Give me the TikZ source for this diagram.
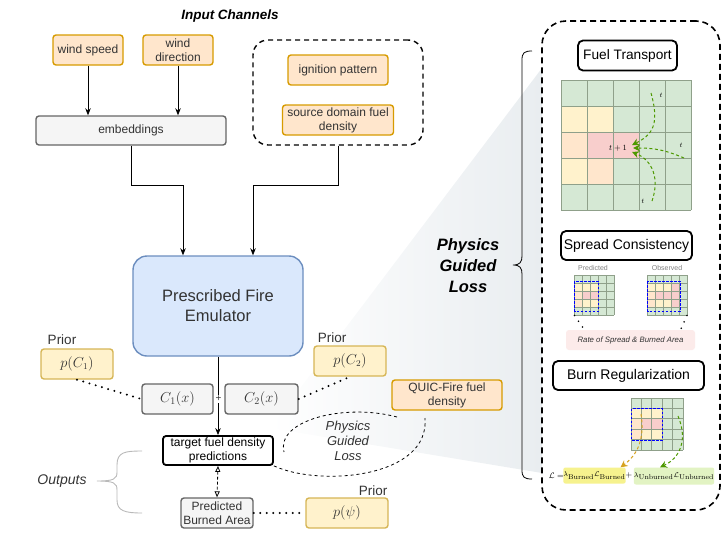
\documentclass[tikz,border=0pt]{standalone}
\usepackage[no-math]{fontspec}
\setmainfont{Liberation Sans}
\usetikzlibrary{arrows.meta,calc}
\definecolor{c333}{HTML}{333333}
\definecolor{cfo}{HTML}{FFE6CC}
\definecolor{cdo}{HTML}{D79B00}
\definecolor{cfy}{HTML}{FFF2CC}
\definecolor{cdy}{HTML}{D6B656}
\definecolor{cfg}{HTML}{F5F5F5}
\definecolor{cdg}{HTML}{666666}
\definecolor{cfb}{HTML}{DAE8FC}
\definecolor{cdb}{HTML}{6C8EBF}
\definecolor{cg}{HTML}{D5E8D4}
\definecolor{cy}{HTML}{FFF2CC}
\definecolor{cp}{HTML}{FFE6CC}
\definecolor{ck}{HTML}{F8CECC}
\definecolor{gline}{HTML}{8FA08A}
\definecolor{shd}{HTML}{E9EDF0}
\definecolor{garr}{HTML}{4D9900}
\definecolor{oarr}{HTML}{D6A21E}
\definecolor{hly}{HTML}{F6F28E}
\definecolor{hlg}{HTML}{E2F3C3}
\definecolor{rpink}{HTML}{FCEBEA}
\newcommand\mygrid[4]{%
  \fill[cg] (#1,#2) rectangle ++({5*#3},{5*#3});
  \foreach \r/\c/\cl in {#4}{\fill[\cl] ({#1+\c*#3},{#2+\r*#3}) rectangle ++(#3,#3);}
  \foreach \i in {0,...,5}{%
    \draw[gline, line width=0.8pt] ({#1+\i*#3},#2) -- ++(0,{5*#3});
    \draw[gline, line width=0.8pt] (#1,{#2+\i*#3}) -- ++({5*#3},0);}
}
\begin{document}
\begin{tikzpicture}[x=1pt,y=-1pt,
  every node/.style={inner sep=0pt, text=c333},
  base/.style={draw, rounded corners=3pt, line width=1.4pt, align=center,
    font=\fontsize{12}{14}\selectfont},
  obox/.style={base, fill=cfo, draw=cdo},
  ybox/.style={base, fill=cfy, draw=cdy},
  gbox/.style={base, fill=cfg, draw=cdg},
  bbox/.style={base, fill=cfb, draw=cdb},
  kbox/.style={base, fill=white, draw=black, line width=1.8pt, text=black},
  arr/.style={-{Stealth[length=7pt,width=5.5pt]}, line width=0.8pt},
  dots/.style={line width=2.2pt, dash pattern=on 0pt off 6.5pt, line cap=round},
  lossd/.style={line width=0.8pt, dash pattern=on 3pt off 3pt},
  garrow/.style={garr, line width=1pt, dash pattern=on 3pt off 2.5pt, -{Stealth[length=7pt,width=7pt]}},
  oarrow/.style={oarr, line width=1pt, dash pattern=on 3pt off 2.5pt, -{Stealth[length=7pt,width=7pt]}},
  ]
\useasboundingbox (0,0) rectangle (722,533);
% shaded zoom wedge
\shade[left color=white, right color=shd] (270,428) -- (542,68) -- (542,473) -- cycle;

% ---------- left part ----------
\node[font=\bfseries\itshape\fontsize{13.5}{15}\selectfont, text=black] (title) at (230,16) {Input Channels};
\node[obox, minimum width=70pt, minimum height=30pt] (ws) at (88,50) {wind speed};
\node[obox, minimum width=70pt, minimum height=30pt] (wd) at (178,50) {wind\\direction};
\node[gbox, minimum width=190pt, minimum height=29pt] (emb) at (131,130.5) {embeddings};
\node[draw, line width=1.4pt, dash pattern=on 5pt off 4pt, rounded corners=15pt,
  minimum width=170pt, minimum height=105pt] (grp) at (338,92.5) {};
\node[obox, minimum width=100pt, minimum height=30pt] (ign) at (338,70) {ignition pattern};
\node[obox, minimum width=111pt, minimum height=30pt] (src) at (338,120) {source domain fuel\\density};

\node[bbox, rounded corners=14pt, minimum width=170pt, minimum height=100pt,
  font=\fontsize{16.5}{20}\selectfont] (emu) at (218,306) {Prescribed Fire\\Emulator};

\draw[arr] (ws.south) -- (ws.south |- emb.north);
\draw[arr] (wd.south) -- (wd.south |- emb.north);
\draw[arr] (emb.south) -- ++(0,40) -| ([xshift=-35pt]emu.north);
\draw[arr] (grp.south) -- ++(0,40) -| ([xshift=35pt]emu.north);

\node[gbox, minimum width=71pt, minimum height=30pt, font=\fontsize{14}{16}\selectfont] (c1) at (177.5,399) {$C_1(x)$};
\node[gbox, minimum width=73pt, minimum height=30pt, font=\fontsize{14}{16}\selectfont] (c2) at (261.5,399) {$C_2(x)$};

\node[ybox, minimum width=72pt, minimum height=30pt, font=\fontsize{13.5}{15}\selectfont] (pc1) at (77,364) {$p(C_1)$};
\node[font=\fontsize{13.5}{15}\selectfont] (prior1) at (62,340) {Prior};
\node[ybox, minimum width=72pt, minimum height=30pt, font=\fontsize{13.5}{15}\selectfont] (pc2) at (350,361) {$p(C_2)$};
\node[font=\fontsize{13.5}{15}\selectfont] (prior2) at (332,338) {Prior};
\node[obox, minimum width=110pt, minimum height=30pt] (quic) at (447,395) {QUIC-Fire fuel\\density};

\node[kbox, minimum width=110pt, minimum height=29pt] (tgt) at (218,450.5) {target fuel density\\predictions};
\node[gbox, minimum width=72pt, minimum height=30pt] (pba) at (217,513) {Predicted\\Burned Area};
\node[ybox, minimum width=82pt, minimum height=30pt, font=\fontsize{13.5}{15}\selectfont] (ppsi) at (347,513) {$p(\psi)$};
\node[font=\fontsize{13.5}{15}\selectfont] (prior3) at (373,491) {Prior};
\node[font=\itshape\fontsize{14}{16}\selectfont] (outs) at (62,481) {Outputs};

\draw[arr] (emu.south) -- (tgt.north);
\node[fill=white, inner sep=0.8pt, font=\fontsize{10}{11}\selectfont] (plus) at (218.5,399) {+};
\draw[dots] (pc1.south) -- (c1.west);
\draw[dots] (c2.east) -- (pc2.south);
\draw[dots] (pba.east) -- (ppsi.west);
\draw[line width=0.8pt, dash pattern=on 3pt off 2pt,
  {Triangle[open,length=6pt,width=5pt]}-{Triangle[open,length=6pt,width=5pt]}] (tgt.south) -- (pba.north);

% physics guided loss dashed loop
\coordinate (la) at (397,417);
\coordinate (lb) at (284,452);
\coordinate (lc) at (425,418);
\draw[lossd] (la) .. controls (345,403) and (276,420) .. (lb);
\draw[lossd] (tgt.south east) .. controls (320,487) and (430,478) .. (lc);
\node[font=\itshape\fontsize{13}{15}\selectfont, align=center] (losslbl) at (348,441) {Physics\\Guided\\Loss};

% outputs brace
\draw[gray!55, line width=0.9pt] (142,451) .. controls (125,451) and (117,452) .. (117,465) -- (117,472)
  .. controls (117,479) and (114,481) .. (97,481)
  .. controls (114,481) and (117,483) .. (117,490) -- (117,500)
  .. controls (117,511) and (125,513) .. (142,513);

% ---------- right panel ----------
\node[draw, fill=white, line width=1.6pt, dash pattern=on 6pt off 4pt, rounded corners=24pt,
  minimum width=178pt, minimum height=489pt] (panel) at (631,265.5) {};
\draw[line width=0.8pt] (532,51) .. controls (524,51) and (522,53) .. (522,60) -- (522,256)
  .. controls (522,262) and (520,265) .. (513,265)
  .. controls (520,265) and (522,268) .. (522,274) -- (522,470)
  .. controls (522,477) and (524,479) .. (532,479);
\node[font=\bfseries\itshape\fontsize{16.5}{21}\selectfont, align=center, text=black] (pgl) at (468,266) {Physics\\Guided\\Loss};

% fuel transport
\node[kbox, rounded corners=5pt, minimum width=99pt, minimum height=30pt, font=\fontsize{13.7}{15}\selectfont] (ft) at (627.5,55.5) {Fuel Transport};
\mygrid{561}{80}{26}{1/0/cy,1/1/cy,2/0/cp,2/1/ck,2/2/ck,3/0/cy,3/1/cp}
\node[font=\fontsize{8}{9}\selectfont, text=black] (t1) at (618,148) {$t+1$};
\node[font=\fontsize{7}{8}\selectfont, text=black] (ta) at (661,95) {$t$};
\node[font=\fontsize{7}{8}\selectfont, text=black] (tb) at (681,145) {$t$};
\node[font=\fontsize{7}{8}\selectfont, text=black] (tc) at (643,201) {$t$};
\coordinate (sa) at (651,93);
\coordinate (sb) at (684,158);
\coordinate (sc) at (652,201);
\draw[garrow] (sa) .. controls (660,125) and (652,135) .. ([xshift=5pt,yshift=3pt]t1.east);
\draw[garrow] (sb) .. controls (665,150) and (655,148) .. ([xshift=6pt]t1.east);
\draw[garrow] (sc) .. controls (660,178) and (652,160) .. ([xshift=5pt,yshift=-4pt]t1.east);

% spread consistency
\node[kbox, rounded corners=5pt, minimum width=131pt, minimum height=29pt, font=\fontsize{14}{15}\selectfont] (spc) at (626.5,245.5) {Spread Consistency};
\node[font=\fontsize{7}{8}\selectfont, text=gray] (predl) at (593,268) {Predicted};
\node[font=\fontsize{7}{8}\selectfont, text=gray] (obsl) at (667,268) {Observed};
\mygrid{574}{275}{8}{1/0/cy,1/1/cy,1/2/cy,2/0/cp,2/1/ck,2/2/ck,3/0/cp,3/1/cy,3/2/cy}
\mygrid{647}{275}{8}{1/0/cy,1/1/cy,1/2/cy,1/3/ck,2/0/cp,2/1/ck,2/2/ck,2/3/ck,3/0/cp,3/1/cy,3/2/cy,3/3/ck}
\draw[blue, line width=0.9pt, dash pattern=on 2.5pt off 1.5pt] (574.5,281) rectangle (598.5,311);
\draw[blue, line width=0.9pt, dash pattern=on 2.5pt off 1.5pt] (647.5,281) rectangle (680,311);
\node[fill=rpink, rounded corners=3pt, minimum width=129pt, minimum height=20pt,
  font=\itshape\fontsize{7.8}{9}\selectfont] (ros) at (630.5,340) {Rate of Spread \& Burned Area};
\coordinate (pdot) at (574.5,315.5);
\coordinate (odot) at (687,315.5);
\draw[line width=1.8pt, dash pattern=on 0pt off 7pt, line cap=round] (pdot) -- ([xshift=-46pt]ros.north);
\draw[line width=1.8pt, dash pattern=on 0pt off 7pt, line cap=round] (odot) -- ([xshift=50pt]ros.north);

% burn regularization
\node[kbox, rounded corners=5pt, minimum width=151pt, minimum height=29pt, font=\fontsize{14}{15}\selectfont] (brg) at (628.5,375.5) {Burn Regularization};
\mygrid{631}{398}{10.4}{1/0/cy,1/1/cy,1/2/cy,2/0/cp,2/1/ck,2/2/ck,3/0/cp,3/1/cy,3/2/cy}
\draw[blue, line width=0.9pt, dash pattern=on 2.5pt off 1.5pt] (631.5,408.5) rectangle (662,440);

\node[font=\fontsize{8.5}{10}\selectfont, text=black, anchor=east] (leq) at (564,476) {$\mathcal{L}=$};
\node[fill=hly, rounded corners=2pt, minimum width=59pt, minimum height=16pt, text=black,
  font=\fontsize{7.2}{8}\selectfont] (yb) at (594.5,475.5) {$\lambda_{\textstyle\mathrm{Burned}}\mathcal{L}_{\textstyle\mathrm{Burned}}$};
\node[fill=hlg, rounded corners=2pt, minimum width=80pt, minimum height=17pt, text=black,
  font=\fontsize{7.2}{8}\selectfont] (gb) at (674,476) {$\lambda_{\textstyle\mathrm{Unburned}}\mathcal{L}_{\textstyle\mathrm{Unburned}}$};
\node[font=\fontsize{8.5}{10}\selectfont, text=black] (pl2) at (629,475) {$+$};
\coordinate (ba) at (641,414);
\coordinate (bb) at (678,416);
\draw[oarrow] (ba) .. controls (645,440) and (637,455) .. ([xshift=26pt]yb.north);
\draw[garrow] (bb) .. controls (688,440) and (680,458) .. ([xshift=-14pt]gb.north);
\end{tikzpicture}
\end{document}
